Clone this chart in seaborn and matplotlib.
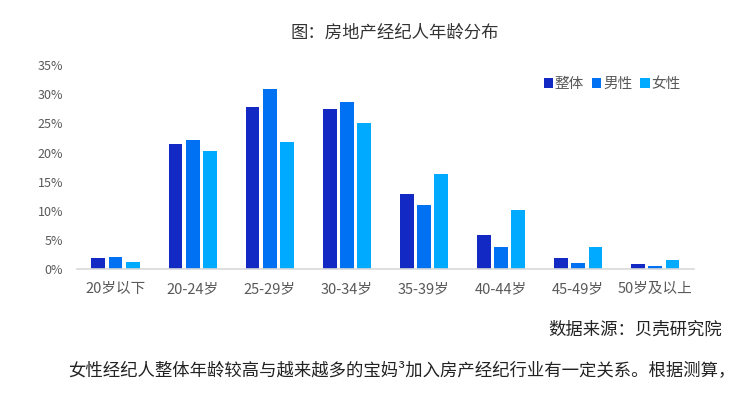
from matplotlib import pyplot as plt
from matplotlib.ticker import FuncFormatter
import seaborn as sns
import pandas as pd

age_groups = ['20岁以下', '20-24岁', '25-29岁', '30-34岁', '35-39岁', '40-44岁', '45-49岁', '50岁及以上']
overall = [1.9, 21.5, 27.8, 27.4, 12.9, 5.9, 2.0, 0.85]
male = [2.1, 22.1, 30.9, 28.6, 11.0, 3.8, 1.1, 0.5]
female = [1.25, 20.2, 21.8, 25.0, 16.4, 10.2, 3.8, 1.6]
series_names = ['整体', '男性', '女性']
colors = ['#1229C4', '#0071F2', '#00AAFF']


def plot_age_distribution():
    df = pd.DataFrame({'age': age_groups, '整体': overall, '男性': male, '女性': female})
    long_df = df.melt(id_vars='age', var_name='group', value_name='share')
    long_df['share'] = long_df['share'] / 100

    sns.set_style('white')
    plt.rcParams['font.family'] = ['Noto Sans CJK SC', 'DejaVu Sans']

    fig = plt.figure(figsize=(7.55, 3.94), dpi=100)
    ax = fig.add_axes([0.102, 0.3165, 0.817, 0.5185])
    sns.barplot(data=long_df, x='age', y='share', hue='group', hue_order=series_names,
                palette=colors, saturation=1, width=0.67, gap=0.2, linewidth=0, ax=ax)

    ax.set_ylim(0, 0.35)
    ax.set_xlim(-0.5, len(age_groups) - 0.5)
    ax.set_yticks([i * 0.05 for i in range(8)])
    ax.yaxis.set_major_formatter(FuncFormatter(lambda v, p: f'{v * 100:.0f}%'))
    ax.set_xlabel('')
    ax.set_ylabel('')
    for side in ['top', 'right', 'left']:
        ax.spines[side].set_visible(False)
    ax.spines['bottom'].set_color('#D9D9D9')
    ax.spines['bottom'].set_linewidth(1.2)
    ax.tick_params(axis='y', length=0, pad=10, labelsize=9, labelcolor='#595959')
    ax.tick_params(axis='x', length=0, pad=9, labelsize=10.5, labelcolor='#595959')

    ax.legend(loc='upper right', bbox_to_anchor=(0.99, 0.975), ncol=3, frameon=False,
              fontsize=10.5, labelcolor='#595959', handlelength=0.65, handleheight=0.65,
              handletextpad=0.1, columnspacing=0.55, borderpad=0)

    fig.text(0.523, 0.918, '图：房地产经纪人年龄分布', ha='center', va='center',
             fontsize=12.5, color='#333333')
    fig.text(0.957, 0.163, '数据来源：贝壳研究院', ha='right', va='center',
             fontsize=12.5, color='#222222')
    fig.text(0.09, 0.06, '女性经纪人整体年龄较高与越来越多的宝妈³加入房产经纪行业有一定关系。根据测算，',
             ha='left', va='center', fontsize=12.5, color='#222222')

    fig.savefig('out.png', dpi=100)


plot_age_distribution()
